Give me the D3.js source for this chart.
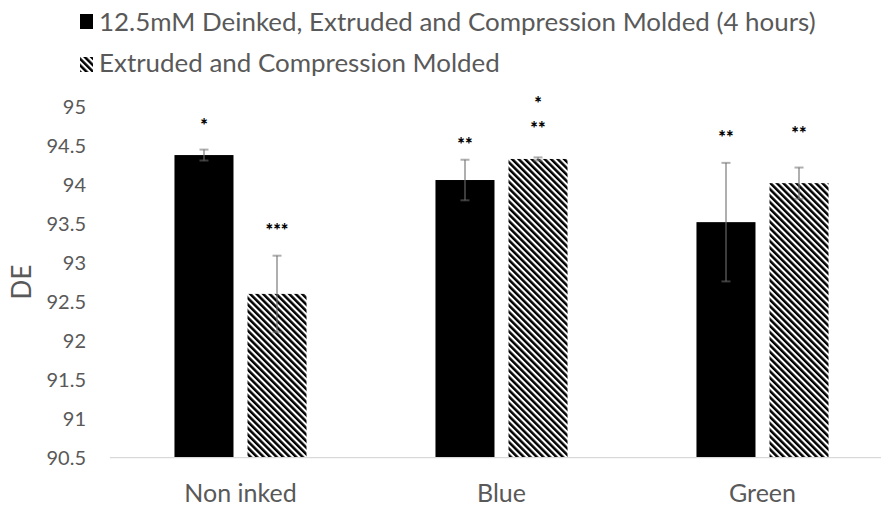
<!DOCTYPE html>
<html>
<head>
<meta charset="utf-8">
<script src="https://cdn.jsdelivr.net/npm/d3@7"></script>
<style>
  html, body { margin: 0; padding: 0; background: #fff; }
  svg { display: block; }
  text { font-family: Lato, "Open Sans", sans-serif; }
</style>
</head>
<body>
<svg id="chart" width="881" height="506"></svg>
<script>
// ---- data ----
const categories = ["Non inked", "Blue", "Green"];
const seriesNames = ["12.5mM Deinked, Extruded and Compression Molded (4 hours)", "Extruded and Compression Molded"];
const deinked = [94.38, 94.06, 93.52];
const extruded = [92.60, 94.33, 94.02];
const deinkedErr = [0.07, 0.26, 0.76];
const extrudedErr = [0.49, 0.02, 0.20];
const deinkedSig = [["*"], ["**"], ["**"]];
const deinkedSigY = [[94.81], [94.57], [94.66]];
const extrudedSig = [["***"], ["*", "**"], ["**"]];
const extrudedSigY = [[93.47], [95.09, 94.78], [94.71]];
const yTicks = [90.5, 91, 91.5, 92, 92.5, 93, 93.5, 94, 94.5, 95];
const yLabel = "DE";

// ---- layout ----
const svg = d3.select("#chart");
const textColor = "#595959";
const plotLeft = 110, plotRight = 893, plotTop = 106.7, plotBottom = 457.7;

const defs = svg.append("defs");
const pat = defs.append("pattern")
  .attr("id", "hatch").attr("patternUnits", "userSpaceOnUse")
  .attr("width", 4.6).attr("height", 4.6)
  .attr("patternTransform", "rotate(-45)");
pat.append("rect").attr("width", 4.6).attr("height", 4.6).attr("fill", "#fff");
pat.append("rect").attr("width", 2.5).attr("height", 4.6).attr("fill", "#000");

const x0 = d3.scaleBand().domain(categories).range([plotLeft, plotRight])
  .paddingInner(0.494).paddingOuter(0.247);
const x1 = d3.scaleBand().domain([0, 1]).range([0, x0.bandwidth()]).paddingInner(0.192);
const y = d3.scaleLinear().domain([90.5, 95]).range([plotBottom, plotTop]);

// y axis (labels only)
const yAxis = d3.axisLeft(y).tickValues(yTicks).tickSize(0).tickPadding(0)
  .tickFormat(d => String(d));
const gy = svg.append("g").attr("transform", `translate(86,0)`).call(yAxis);
gy.select(".domain").remove();
gy.selectAll("text").attr("fill", textColor).style("font-size", "20px")
  .attr("font-family", "Lato");

// y label
svg.append("text").text(yLabel)
  .attr("transform", `translate(31,282) rotate(-90)`)
  .attr("text-anchor", "middle").attr("fill", textColor)
  .style("font-size", "26px");

// series data
const series = [
  { vals: deinked, err: deinkedErr, sig: deinkedSig, sigY: deinkedSigY, fill: "#000" },
  { vals: extruded, err: extrudedErr, sig: extrudedSig, sigY: extrudedSigY, fill: "url(#hatch)" }
];

const barsG = svg.append("g");
series.forEach((s, si) => {
  categories.forEach((c, ci) => {
    const bx = x0(c) + x1(si);
    const bw = x1.bandwidth();
    barsG.append("rect")
      .attr("x", bx).attr("y", y(s.vals[ci]))
      .attr("width", bw).attr("height", y(90.5) - y(s.vals[ci]))
      .attr("fill", s.fill);
  });
});

// x axis line
svg.append("line").attr("x1", plotLeft).attr("x2", plotRight)
  .attr("y1", plotBottom).attr("y2", plotBottom)
  .attr("stroke", "#d9d9d9").attr("stroke-width", 1.3);

// error bars
const errColor = "rgba(110,110,110,0.55)";
series.forEach((s, si) => {
  categories.forEach((c, ci) => {
    const cx = x0(c) + x1(si) + x1.bandwidth() / 2;
    const hi = y(s.vals[ci] + s.err[ci]), lo = y(s.vals[ci] - s.err[ci]);
    const g = svg.append("g").attr("stroke", errColor).attr("stroke-width", 2).attr("fill", "none");
    g.append("line").attr("x1", cx).attr("x2", cx).attr("y1", hi).attr("y2", lo);
    g.append("line").attr("x1", cx - 4.5).attr("x2", cx + 4.5).attr("y1", hi).attr("y2", hi);
    g.append("line").attr("x1", cx - 4.5).attr("x2", cx + 4.5).attr("y1", lo).attr("y2", lo);
  });
});

// significance stars
series.forEach((s, si) => {
  categories.forEach((c, ci) => {
    const cx = x0(c) + x1(si) + x1.bandwidth() / 2;
    s.sig[ci].forEach((label, k) => {
      svg.append("text").text(label)
        .attr("x", cx).attr("y", y(s.sigY[ci][k]))
        .attr("dy", "0.6em")
        .attr("text-anchor", "middle").attr("fill", "#000")
        .style("font-size", "18px").style("font-weight", "900")
        .style("letter-spacing", "0px");
    });
  });
});

// x category labels
categories.forEach(c => {
  svg.append("text").text(c)
    .attr("x", x0(c) + x0.bandwidth() / 2).attr("y", 502)
    .attr("text-anchor", "middle").attr("fill", textColor)
    .style("font-size", "25px");
});

// legend
const leg = svg.append("g");
leg.append("rect").attr("x", 80).attr("y", 14).attr("width", 13).attr("height", 15).attr("fill", "#000");
leg.append("rect").attr("x", 80).attr("y", 57).attr("width", 13).attr("height", 15).attr("fill", "url(#hatch)");
const l1 = leg.append("text").text(seriesNames[0]).attr("x", 99).attr("y", 31)
  .attr("fill", textColor).style("font-size", "25px");
const l2 = leg.append("text").text(seriesNames[1]).attr("x", 99).attr("y", 72)
  .attr("fill", textColor).style("font-size", "25px");
// fit legend font so the first line spans the same width as the reference
const w = l1.node().getComputedTextLength();
const fs = 25 * 717 / w;
l1.style("font-size", fs + "px");
l2.style("font-size", fs + "px");
</script>
</body>
</html>
